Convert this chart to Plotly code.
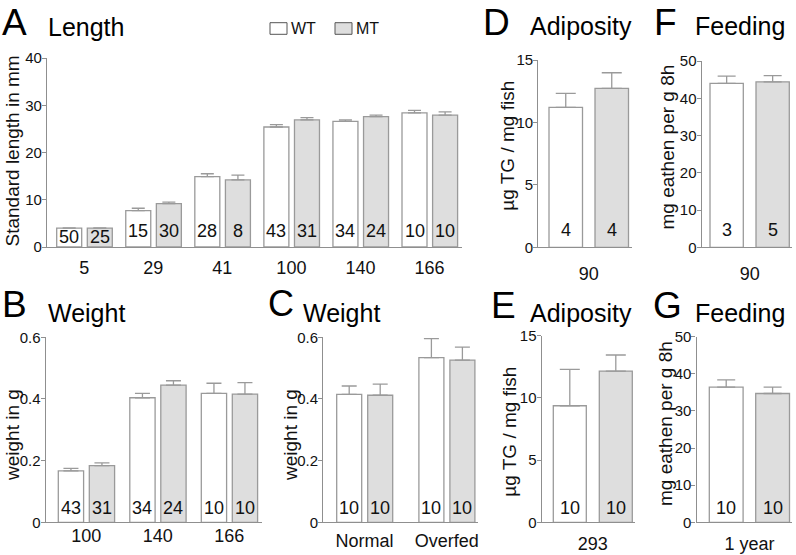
import plotly.graph_objects as go

# ---------------- data ----------------
A_days = ["5", "29", "41", "100", "140", "166"]
A_wt = [4.0, 7.7, 14.9, 25.4, 26.6, 28.4]
A_wt_sem = [0.05, 0.5, 0.6, 0.5, 0.3, 0.5]
A_mt = [4.0, 9.2, 14.2, 26.9, 27.6, 27.9]
A_mt_sem = [0.05, 0.3, 1.0, 0.5, 0.3, 0.7]
A_n_wt = [50, 15, 28, 43, 34, 10]
A_n_mt = [25, 30, 8, 31, 24, 10]

B_days = ["100", "140", "166"]
B_wt = [0.167, 0.404, 0.418]
B_wt_sem = [0.008, 0.014, 0.033]
B_mt = [0.184, 0.445, 0.416]
B_mt_sem = [0.009, 0.014, 0.037]
B_n_wt = [43, 34, 10]
B_n_mt = [31, 24, 10]

C_groups = ["Normal", "Overfed"]
C_wt = [0.415, 0.534]
C_wt_sem = [0.027, 0.062]
C_mt = [0.412, 0.526]
C_mt_sem = [0.036, 0.042]
C_n_wt = [10, 10]
C_n_mt = [10, 10]

D_days = ["90"]
D_wt = [11.2]
D_wt_sem = [1.12]
D_mt = [12.73]
D_mt_sem = [1.25]
D_n_wt = [4]
D_n_mt = [4]

E_days = ["293"]
E_wt = [9.37]
E_wt_sem = [2.93]
E_mt = [12.16]
E_mt_sem = [1.29]
E_n_wt = [10]
E_n_mt = [10]

F_days = ["90"]
F_wt = [44.0]
F_wt_sem = [1.96]
F_mt = [44.4]
F_mt_sem = [1.65]
F_n_wt = [3]
F_n_mt = [5]

G_days = ["1 year"]
G_wt = [36.4]
G_wt_sem = [1.97]
G_mt = [34.7]
G_mt_sem = [1.7]
G_n_wt = [10]
G_n_mt = [10]

series_names = ["WT", "MT"]

# ---------------- styling / layout ----------------
W, H = 796, 555
FONT = "Liberation Sans, Arial, Helvetica, sans-serif"
LINE = "#9a9a9a"
AXIS = "#8f8f8f"
WT_FILL = "#ffffff"
MT_FILL = "#dedede"


def xp(px):
    return px / W


def yp(py):
    return 1 - py / H


panels = {
    "A": dict(cats=A_days, wt=A_wt, wts=A_wt_sem, mt=A_mt, mts=A_mt_sem, nw=A_n_wt, nm=A_n_mt,
              ytitle="Standard length in mm", word="Length"),
    "B": dict(cats=B_days, wt=B_wt, wts=B_wt_sem, mt=B_mt, mts=B_mt_sem, nw=B_n_wt, nm=B_n_mt,
              ytitle="weight in g", word="Weight"),
    "C": dict(cats=C_groups, wt=C_wt, wts=C_wt_sem, mt=C_mt, mts=C_mt_sem, nw=C_n_wt, nm=C_n_mt,
              ytitle="weight in g", word="Weight"),
    "D": dict(cats=D_days, wt=D_wt, wts=D_wt_sem, mt=D_mt, mts=D_mt_sem, nw=D_n_wt, nm=D_n_mt,
              ytitle="µg TG / mg fish", word="Adiposity"),
    "E": dict(cats=E_days, wt=E_wt, wts=E_wt_sem, mt=E_mt, mts=E_mt_sem, nw=E_n_wt, nm=E_n_mt,
              ytitle="µg TG / mg fish", word="Adiposity"),
    "F": dict(cats=F_days, wt=F_wt, wts=F_wt_sem, mt=F_mt, mts=F_mt_sem, nw=F_n_wt, nm=F_n_mt,
              ytitle="mg eathen per g 8h", word="Feeding"),
    "G": dict(cats=G_days, wt=G_wt, wts=G_wt_sem, mt=G_mt, mts=G_mt_sem, nw=G_n_wt, nm=G_n_mt,
              ytitle="mg eathen per g 8h", word="Feeding"),
}

# pixel geometry of every panel
geom = {
    "A": dict(xl=47, xr=462, y0=247, yt=58, ymax=40, dtick=10, c0=84.2, sp=69.06, bw=25, wo=-27.5, mo=3.1,
              cap=6.5, xstand=4, nly=231.5, nly_first=237.3,
              letter=(0, 22.5, 37), wordpos=(46, 27), ytpos=(12, 151.5)),
    "B": dict(xl=45.7, xr=261.7, y0=522.3, yt=337.3, ymax=0.6, dtick=0.2, c0=86.3, sp=71.5, bw=25.3, wo=-28, mo=3,
              cap=7.5, xstand=-3, nly=508.3, nly_first=None,
              letter=(0, 304, 37), wordpos=(46, 312.8), ytpos=(12, 435)),
    "C": dict(xl=323.3, xr=477.7, y0=522.3, yt=337.3, ymax=0.6, dtick=0.2, c0=364.5, sp=82.2, bw=25, wo=-27.8, mo=3.2,
              cap=7.5, xstand=2, nly=508, nly_first=None,
              letter=(266, 303.3, 36), wordpos=(301, 312.8), ytpos=(290, 435)),
    "D": dict(xl=538.3, xr=631.7, y0=247.3, yt=60, ymax=15, dtick=5, c0=588.7, sp=100, bw=33.5, wo=-39.7, mo=6.3,
              cap=10, xstand=10, nly=230, nly_first=None,
              letter=(481, 22.5, 37), wordpos=(528, 26.5), ytpos=(508, 145.7)),
    "E": dict(xl=541.7, xr=635, y0=522.3, yt=335.7, ymax=15, dtick=5, c0=592.8, sp=100, bw=33, wo=-39.5, mo=6.5,
              cap=10, xstand=5, nly=507.5, nly_first=None,
              letter=(489, 305, 37), wordpos=(528, 313.3), ytpos=(510, 431.7)),
    "F": dict(xl=701.7, xr=792, y0=247.3, yt=61, ymax=50, dtick=10, c0=749.7, sp=100, bw=33.3, wo=-39.7, mo=6.3,
              cap=9, xstand=10, nly=230, nly_first=None,
              letter=(652, 22.5, 37), wordpos=(693, 26.5), ytpos=(667, 147.5)),
    "G": dict(xl=696.5, xr=792, y0=522.3, yt=336.7, ymax=50, dtick=10, c0=749.5, sp=100, bw=33.8, wo=-40.2, mo=6.2,
              cap=9, xstand=5, nly=507.5, nly_first=None,
              letter=(651, 305.5, 37), wordpos=(693, 313.3), ytpos=(665, 424)),
}

fig = go.Figure()
annotations = []
layout_axes = {}

for i, key in enumerate(["A", "B", "C", "D", "E", "F", "G"]):
    p = panels[key]
    g = geom[key]
    n = i + 1
    xa = "x" if n == 1 else f"x{n}"
    ya = "y" if n == 1 else f"y{n}"
    xname = "xaxis" if n == 1 else f"xaxis{n}"
    yname = "yaxis" if n == 1 else f"yaxis{n}"
    idx = list(range(len(p["cats"])))
    sp = g["sp"]
    width = g["bw"] / sp
    for vals, sems, fill, off, name in [
        (p["wt"], p["wts"], WT_FILL, g["wo"] / sp, series_names[0]),
        (p["mt"], p["mts"], MT_FILL, g["mo"] / sp, series_names[1]),
    ]:
        fig.add_trace(go.Bar(
            x=idx, y=vals, xaxis=xa, yaxis=ya, name=name, showlegend=False,
            width=[width] * len(idx), offset=[off] * len(idx),
            marker=dict(color=fill, line=dict(color=LINE, width=1.3)),
            error_y=dict(type="data", array=sems, arrayminus=[0] * len(idx), symmetric=False,
                         color=LINE, thickness=1.3, width=g["cap"]),
        ))
    xr0 = (g["xl"] - g["c0"]) / sp
    xr1 = (g["xr"] - g["c0"]) / sp
    layout_axes[xname] = dict(
        domain=[xp(g["xl"]), xp(g["xr"])], range=[xr0, xr1], anchor=ya, automargin=False,
        tickmode="array", tickvals=idx, ticktext=p["cats"], ticks="",
        ticklabelstandoff=g["xstand"],
        showline=True, linecolor=AXIS, linewidth=1.3, showgrid=False, zeroline=False,
        tickfont=dict(family=FONT, size=18, color="#111"), fixedrange=True,
    )
    layout_axes[yname] = dict(
        domain=[yp(g["y0"]), yp(g["yt"])], range=[0, g["ymax"]], anchor=xa, automargin=False,
        tick0=0, dtick=g["dtick"], ticks="outside", ticklen=4, tickwidth=1.3, tickcolor=AXIS,
        ticklabelstandoff=-3,
        showline=True, linecolor=AXIS, linewidth=1.3, showgrid=False, zeroline=False,
        tickfont=dict(family=FONT, size=15, color="#111"), fixedrange=True,
    )
    # sample-size labels inside bars
    for j in idx:
        for cnt, off in [(p["nw"][j], g["wo"]), (p["nm"][j], g["mo"])]:
            ly = g["nly"]
            if j == 0 and g["nly_first"] is not None:
                ly = g["nly_first"]
            annotations.append(dict(
                x=j + (off + g["bw"] / 2) / sp, xref=xa, y=yp(ly), yref="paper",
                text=str(cnt), showarrow=False, xanchor="center", yanchor="middle",
                font=dict(family=FONT, size=18, color="#111"),
            ))
    # panel letter, title word, y title
    annotations.append(dict(x=xp(g["letter"][0]), y=yp(g["letter"][1]), xref="paper", yref="paper",
                            text=key, showarrow=False, xanchor="left", yanchor="middle",
                            font=dict(family=FONT, size=g["letter"][2], color="#000")))
    annotations.append(dict(x=xp(g["wordpos"][0]), y=yp(g["wordpos"][1]), xref="paper", yref="paper",
                            text=p["word"], showarrow=False, xanchor="left", yanchor="middle",
                            font=dict(family=FONT, size=25, color="#000")))
    annotations.append(dict(x=xp(g["ytpos"][0]), y=yp(g["ytpos"][1]), xref="paper", yref="paper",
                            text=p["ytitle"], showarrow=False, xanchor="center", yanchor="middle",
                            textangle=-90, font=dict(family=FONT, size=19, color="#111")))

# legend drawn as boxes + labels
shapes = []
legend_items = [(series_names[0], WT_FILL, 270, 287), (series_names[1], MT_FILL, 335, 352)]
for name, fill, x0, x1 in legend_items:
    shapes.append(dict(type="rect", xref="paper", yref="paper", x0=xp(x0), x1=xp(x1),
                       y0=yp(34.3), y1=yp(22.7), fillcolor=fill, line=dict(color="#555", width=1)))
    annotations.append(dict(x=xp(x1 + 2), y=yp(28.5), xref="paper", yref="paper", text=name,
                            showarrow=False, xanchor="left", yanchor="middle",
                            font=dict(family=FONT, size=16, color="#111")))

fig.update_layout(
    width=W, height=H, margin=dict(l=0, r=0, t=0, b=0, autoexpand=False),
    paper_bgcolor="white", plot_bgcolor="white",
    barmode="overlay", showlegend=False,
    annotations=annotations, shapes=shapes,
    font=dict(family=FONT),
    **layout_axes,
)

fig.write_html("out.html", config={"displayModeBar": False},
               post_script="document.body.style.margin='0';document.body.style.overflow='hidden';")
